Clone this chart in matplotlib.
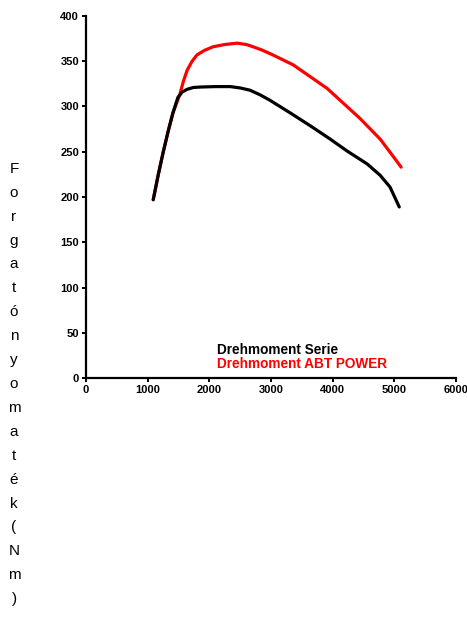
import matplotlib
matplotlib.use("Agg")
import matplotlib.pyplot as plt

# torque curves (rpm, Nm)
rpm_serie = [1090, 1170, 1250, 1330, 1410, 1490, 1560, 1640, 1740, 1850, 2100,
             2340, 2500, 2660, 2820, 2980, 3310, 3630, 3960, 4230, 4560, 4770,
             4930, 5080]
nm_serie = [197, 224, 249, 272, 293, 310, 316, 319, 321, 321.5, 322,
            322, 320.5, 318, 313, 307, 293, 279, 264, 251, 236.5, 224,
            211, 189]

rpm_abt = [1090, 1170, 1250, 1330, 1410, 1520, 1580, 1640, 1720, 1800, 1920,
           2060, 2250, 2450, 2600, 2710, 2850, 3030, 3360, 3910, 4440, 4770,
           4980, 5110]
nm_abt = [197, 224, 249, 272, 293, 313, 328, 340, 350, 357, 362,
          366, 368.5, 370, 368.5, 366, 362.5, 357, 346, 320, 287, 264,
          245, 233]

x_ticks = [0, 1000, 2000, 3000, 4000, 5000, 6000]
y_ticks = [0, 50, 100, 150, 200, 250, 300, 350, 400]
legend_labels = ["Drehmoment Serie", "Drehmoment ABT POWER"]
y_title = "Forgatónyomaték(Nm)"

plt.rcParams['font.family'] = ['Liberation Sans', 'DejaVu Sans']

W, H = 467, 621
fig = plt.figure(figsize=(W / 100, H / 100), dpi=100)
ax = fig.add_axes([86 / W, (H - 378) / H, 370 / W, 362 / H])

ax.plot(rpm_abt, nm_abt, color='#ff0000', lw=2.3, solid_joinstyle='round',
        solid_capstyle='round')
ax.plot(rpm_serie, nm_serie, color='black', lw=2.3, solid_joinstyle='round',
        solid_capstyle='round')

ax.set_xlim(0, 6000)
ax.set_ylim(0, 400)
ax.set_xticks(x_ticks)
ax.set_yticks(y_ticks)
for s in ['top', 'right']:
    ax.spines[s].set_visible(False)
for s in ['left', 'bottom']:
    ax.spines[s].set_linewidth(1.6)
ax.tick_params(length=3, width=1.4, pad=2, labelsize=8)
for lab in ax.get_xticklabels() + ax.get_yticklabels():
    lab.set_fontweight('bold')

ax.text(2120, 30.5, legend_labels[0], color='black', fontsize=9.8,
        fontweight='bold', va='center', ha='left')
ax.text(2120, 16, legend_labels[1], color='#ff0000', fontsize=9.8,
        fontweight='bold', va='center', ha='left')

fig.text(14 / W, 1 - 384 / H, "\n".join(y_title), fontsize=11,
         ha='center', va='center', linespacing=1.9)

fig.savefig("out.png", dpi=100)
